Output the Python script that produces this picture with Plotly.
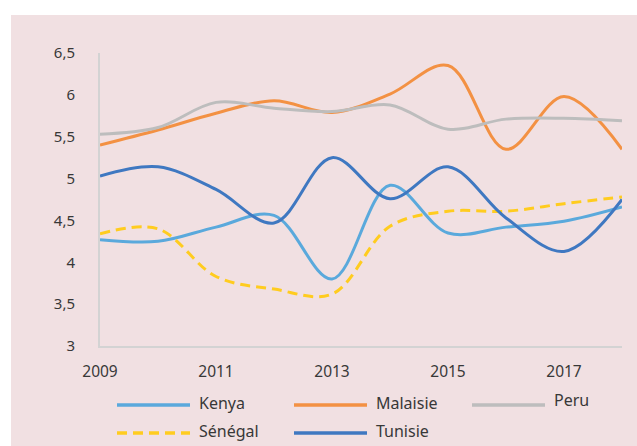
import plotly.graph_objects as go

years = [2009, 2010, 2011, 2012, 2013, 2014, 2015, 2016, 2017, 2018]
kenya = [4.27, 4.25, 4.42, 4.56, 3.80, 4.92, 4.35, 4.42, 4.49, 4.66]
malaisie = [5.40, 5.58, 5.78, 5.93, 5.79, 6.01, 6.35, 5.35, 5.98, 5.35]
peru = [5.53, 5.61, 5.91, 5.84, 5.80, 5.88, 5.59, 5.71, 5.72, 5.69]
senegal = [4.34, 4.40, 3.83, 3.68, 3.62, 4.43, 4.61, 4.61, 4.70, 4.78]
tunisie = [5.03, 5.14, 4.87, 4.47, 5.25, 4.76, 5.14, 4.53, 4.13, 4.75]

names = ["Kenya", "Malaisie", "Peru", "Sénégal", "Tunisie"]
series = [kenya, malaisie, peru, senegal, tunisie]
colors = ["#5AA9DC", "#F39143", "#BDBDBD", "#FFCC1F", "#3F78C1"]
dashes = ["solid", "solid", "solid", "10px,6px", "solid"]

x_tickvals = [2009, 2011, 2013, 2015, 2017]
x_ticktext = ["2009", "2011", "2013", "2015", "2017"]
y_tickvals = [3, 3.5, 4, 4.5, 5, 5.5, 6, 6.5]
y_ticktext = ["3", "3,5", "4", "4,5", "5", "5,5", "6", "6,5"]

W, H = 637, 446
L, R, T, B = 100, 15, 53, 100
PW = W - L - R
PH = H - T - B
BG = "#F1E0E2"
TXT = "#383838"
FONT = "Noto Sans"


def px2x(px):
    return (px - L) / PW


def py2y(py):
    return (H - B - py) / PH


fig = go.Figure()
for name, vals, col, dsh in zip(names, series, colors, dashes):
    fig.add_trace(go.Scatter(
        x=years, y=vals, name=name, mode="lines",
        line=dict(color=col, width=3, dash=dsh, shape="spline", smoothing=1),
        showlegend=False, hoverinfo="skip",
    ))

shapes = [
    dict(type="rect", xref="paper", yref="paper",
         x0=px2x(11), x1=px2x(W + 2), y0=py2y(15), y1=py2y(H + 2),
         fillcolor=BG, line=dict(width=0), layer="below"),
]
annotations = []

# legend layout (3 columns, 2 rows)
leg_pos = [(117, 405, 403), (294, 405, 403), (472, 405, 400),
           (117, 433, 431), (294, 433, 431)]
for (lx, ly, ty), name, col, dsh in zip(leg_pos, names, colors, dashes):
    shapes.append(dict(
        type="line", xref="paper", yref="paper",
        x0=px2x(lx), x1=px2x(lx + 73), y0=py2y(ly), y1=py2y(ly),
        line=dict(color=col, width=3.5, dash=dsh),
    ))
    annotations.append(dict(
        text=name, xref="paper", yref="paper",
        x=px2x(lx + 80), y=py2y(ty), xanchor="left", yanchor="middle",
        showarrow=False, font=dict(family=FONT, size=16, color=TXT),
    ))

fig.update_layout(
    width=W, height=H,
    margin=dict(l=L, r=R, t=T, b=B),
    paper_bgcolor="white",
    plot_bgcolor="rgba(0,0,0,0)",
    font=dict(family=FONT, size=15, color=TXT),
    shapes=shapes,
    annotations=annotations,
    showlegend=False,
    xaxis=dict(
        range=[2009, 2018], tickvals=x_tickvals, ticktext=x_ticktext,
        showgrid=False, zeroline=False,
        showline=True, linecolor="#D3D3D3", linewidth=2,
        ticks="", ticklabelstandoff=10,
        tickfont=dict(family=FONT, size=15.5, color=TXT),
    ),
    yaxis=dict(
        range=[3, 6.5], tickvals=y_tickvals, ticktext=y_ticktext,
        showgrid=False, zeroline=False,
        showline=True, linecolor="#D3D3D3", linewidth=2,
        ticks="", ticklabelstandoff=20,
        tickfont=dict(family=FONT, size=15, color=TXT),
    ),
)

fig.write_html(
    "out.html",
    config={"displayModeBar": False, "staticPlot": True},
    post_script="document.body.style.margin='0';document.body.style.overflow='hidden';",
)
